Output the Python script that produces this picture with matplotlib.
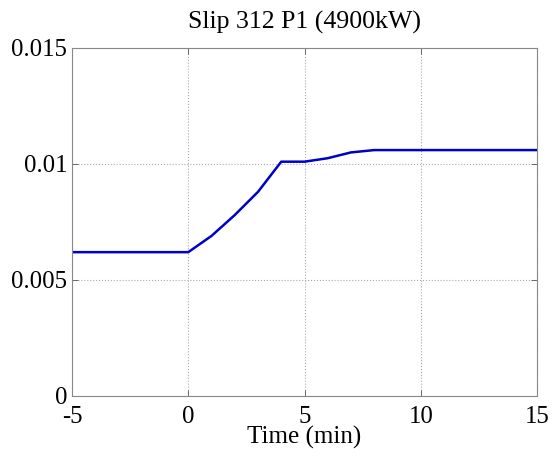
import matplotlib
matplotlib.use("Agg")
import matplotlib.pyplot as plt

time_min = [-5, 0, 1, 2, 3, 4, 5, 6, 7, 8, 15]
slip = [0.0062, 0.0062, 0.0069, 0.0078, 0.0088, 0.0101, 0.0101, 0.01025, 0.0105, 0.0106, 0.0106]
x_ticks = [-5, 0, 5, 10, 15]
x_tick_labels = ["-5", "0", "5", "10", "15"]
y_ticks = [0, 0.005, 0.01, 0.015]
y_tick_labels = ["0", "0.005", "0.01", "0.015"]
title = "Slip 312 P1 (4900kW)"
xlabel = "Time (min)"

plt.rcParams['font.family'] = ['Liberation Serif', 'DejaVu Serif']

fig = plt.figure(figsize=(5.54, 4.57), dpi=100)
ax = fig.add_axes([72/554, 1-396/457, (537-72)/554, (396-48)/457])
ax.plot(time_min, slip, color='#0000c8', lw=1.8)
ax.set_xlim(-5, 15)
ax.set_ylim(0, 0.015)
ax.set_xticks(x_ticks)
ax.set_xticklabels(x_tick_labels)
ax.set_yticks(y_ticks)
ax.set_yticklabels(y_tick_labels)
ax.tick_params(direction='in', length=4, width=0.6, colors='#555555', labelsize=17.8,
               top=True, right=True, labelcolor='black')
ax.tick_params(axis='x', pad=7)
ax.tick_params(axis='y', pad=3.5)
ax.grid(True, linestyle=':', color='#aaaaaa', lw=0.8)
for s in ax.spines.values():
    s.set_color('#888888')
    s.set_linewidth(0.8)
ax.set_title(title, fontsize=18.6, pad=14)
ax.set_xlabel(xlabel, fontsize=18, labelpad=-1)
fig.savefig("out.png", dpi=100)
